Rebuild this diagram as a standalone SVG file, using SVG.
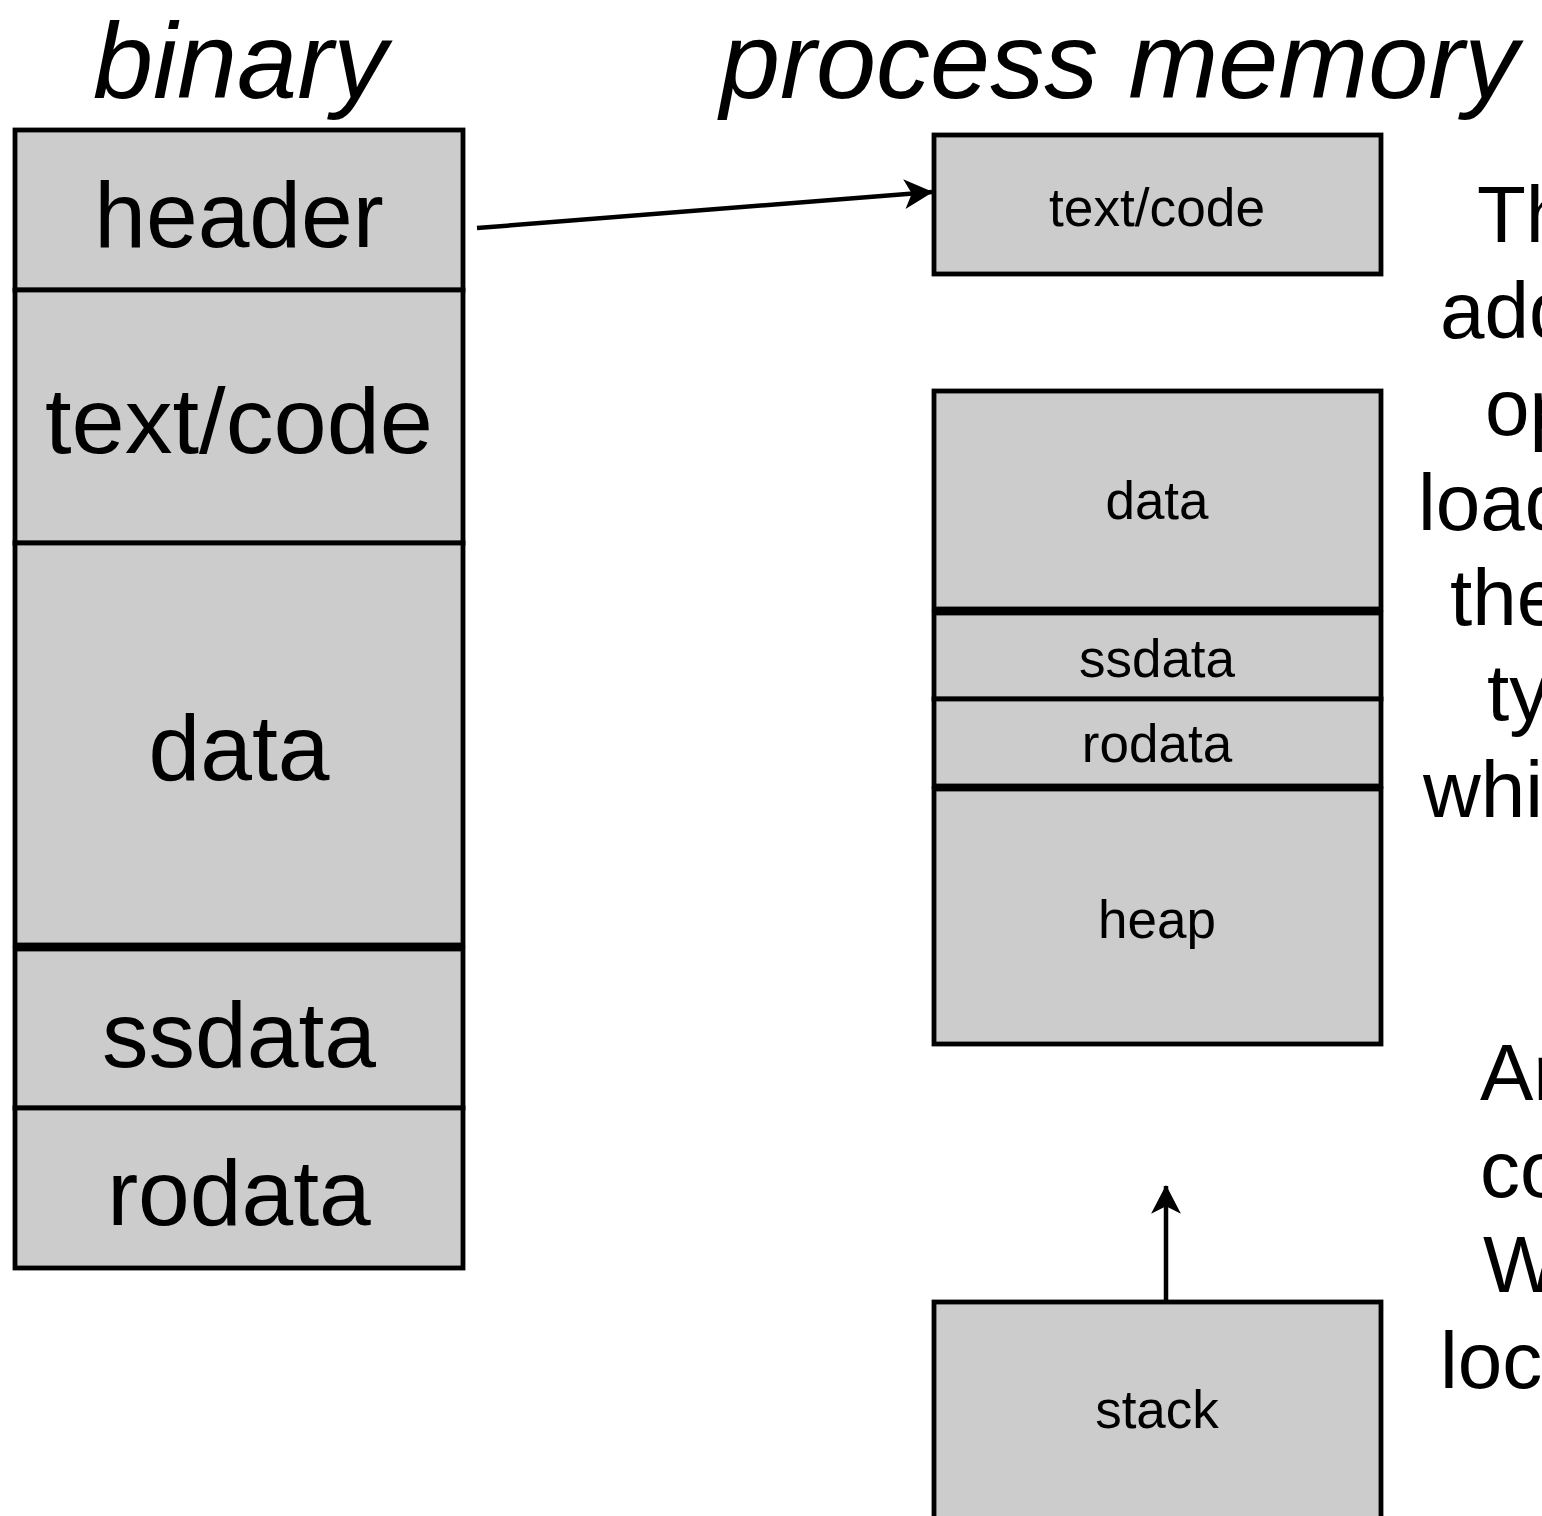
<svg xmlns="http://www.w3.org/2000/svg" width="1542" height="1516" viewBox="0 0 1542 1516">
  <style>
    .seg { fill: #cccccc; stroke: #000; stroke-width: 4.8; }
    .t { font-family: "Liberation Sans", Arial, sans-serif; fill: #000; }
    .title { font-size: 108px; font-style: italic; }
    .big { font-size: 93px; text-anchor: middle; }
    .small { font-size: 53px; text-anchor: middle; }
    .note { font-size: 80px; }
    .conn { stroke: #000; stroke-width: 4.5; fill: none; }
  </style>
  <defs>
    <marker id="arrow" markerUnits="userSpaceOnUse" markerWidth="32" markerHeight="32" viewBox="-27 -15 29 30" refX="0" refY="0" orient="auto">
      <path d="M1,0 L-26,-14 L-19,0 L-26,14 Z" fill="#000"/>
    </marker>
  </defs>

  <rect width="1542" height="1516" fill="#fff"/>

  <!-- column titles -->
  <text class="t title" x="93" y="98">binary</text>
  <text class="t title" x="720" y="98">process memory</text>

  <!-- binary file layout -->
  <g id="bin-header">
    <rect class="seg" x="15" y="130" width="448" height="160"/>
    <text class="t big" x="239" y="247">header</text>
  </g>
  <g id="bin-text">
    <rect class="seg" x="15" y="290" width="448" height="253"/>
    <text class="t big" x="239" y="453" textLength="388" lengthAdjust="spacingAndGlyphs">text/code</text>
  </g>
  <g id="bin-data">
    <rect class="seg" x="15" y="543" width="448" height="402"/>
    <text class="t big" x="239" y="780">data</text>
  </g>
  <g id="bin-ssdata">
    <rect class="seg" x="15" y="949" width="448" height="159"/>
    <text class="t big" x="239" y="1067">ssdata</text>
  </g>
  <g id="bin-rodata">
    <rect class="seg" x="15" y="1108" width="448" height="160"/>
    <text class="t big" x="239" y="1225">rodata</text>
  </g>

  <!-- process memory layout -->
  <g id="mem-text">
    <rect class="seg" x="934" y="135" width="447" height="139"/>
    <text class="t small" x="1157" y="226" textLength="216" lengthAdjust="spacingAndGlyphs">text/code</text>
  </g>
  <g id="mem-data">
    <rect class="seg" x="934" y="391" width="447" height="218"/>
    <text class="t small" x="1157" y="519">data</text>
  </g>
  <g id="mem-ssdata">
    <rect class="seg" x="934" y="613" width="447" height="86"/>
    <text class="t small" x="1157" y="677">ssdata</text>
  </g>
  <g id="mem-rodata">
    <rect class="seg" x="934" y="699" width="447" height="87"/>
    <text class="t small" x="1157" y="762">rodata</text>
  </g>
  <g id="mem-heap">
    <rect class="seg" x="934" y="789" width="447" height="255"/>
    <text class="t small" x="1157" y="938">heap</text>
  </g>
  <g id="mem-stack">
    <rect class="seg" x="934" y="1302" width="447" height="240"/>
    <text class="t small" x="1157" y="1428">stack</text>
  </g>

  <!-- connectors -->
  <g id="connectors">
    <line class="conn" x1="477" y1="228" x2="932" y2="192" marker-end="url(#arrow)"/>
    <line class="conn" x1="1166" y1="1300" x2="1166" y2="1186" marker-end="url(#arrow)"/>
  </g>

  <!-- side notes running off the right edge -->
  <g id="notes">
    <text class="t note" x="1477" y="242">Th</text>
    <text class="t note" x="1440" y="338">add</text>
    <text class="t note" x="1485" y="435">op</text>
    <text class="t note" x="1418" y="530">load</text>
    <text class="t note" x="1450" y="625">the</text>
    <text class="t note" x="1487" y="720">ty</text>
    <text class="t note" x="1423" y="817">whic</text>
    <text class="t note" x="1480" y="1100">Ar</text>
    <text class="t note" x="1480" y="1197">co</text>
    <text class="t note" x="1483" y="1292">W</text>
    <text class="t note" x="1440" y="1388">loca</text>
  </g>
</svg>
